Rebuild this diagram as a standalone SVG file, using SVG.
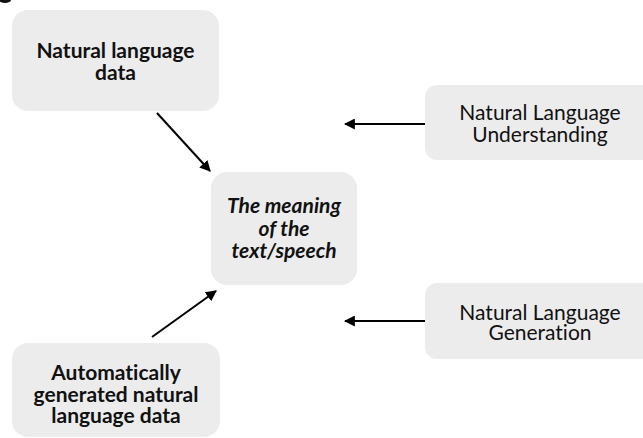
<svg xmlns="http://www.w3.org/2000/svg" width="643" height="438" viewBox="0 0 643 438">
<defs>
<style>
.box{fill:#ececec;}
.t{font-family:Lato,"Liberation Sans",sans-serif;font-size:21px;fill:#111;text-anchor:middle;font-variant-ligatures:none;}
.b{font-weight:bold;}
.i{font-style:italic;font-weight:bold;}
.c{stroke:#000;stroke-width:2;fill:none;marker-end:url(#ah);}
</style>
<marker id="ah" viewBox="0 0 10 10" refX="9" refY="5" markerWidth="5.5" markerHeight="5.5" orient="auto" markerUnits="strokeWidth">
<path d="M0,0 L10,5 L0,10 z" fill="#000"/>
</marker>
</defs>
<rect width="643" height="438" fill="#fff"/>
<ellipse cx="5" cy="0" rx="6" ry="3" fill="#111"/>
<g id="nl-data">
<rect class="box" x="12" y="10" width="207" height="101" rx="16"/>
<text class="t b" x="115.5" y="58">Natural language</text>
<text class="t b" x="115.5" y="80">data</text>
</g>
<g id="meaning">
<rect class="box" x="211" y="172" width="146" height="113" rx="16"/>
<text class="t i" x="284" y="213">The meaning</text>
<text class="t i" x="284" y="236">of the</text>
<text class="t i" x="284" y="258">text/speech</text>
</g>
<g id="auto-data">
<rect class="box" x="12" y="343" width="208" height="94" rx="16"/>
<text class="t b" x="116" y="380">Automatically</text>
<text class="t b" x="116" y="402">generated natural</text>
<text class="t b" x="116" y="423">language data</text>
</g>
<g id="nlu">
<rect class="box" x="425" y="85" width="240" height="75" rx="12"/>
<text class="t" x="540" y="120">Natural Language</text>
<text class="t" x="540" y="142">Understanding</text>
</g>
<g id="nlg">
<rect class="box" x="425" y="283" width="240" height="76" rx="12"/>
<text class="t" x="540" y="320">Natural Language</text>
<text class="t" x="540" y="340">Generation</text>
</g>
<g id="connectors">
<line class="c" x1="157" y1="113" x2="210" y2="171"/>
<line class="c" x1="152" y1="337" x2="216" y2="291"/>
<line class="c" x1="425" y1="124" x2="345" y2="124"/>
<line class="c" x1="425" y1="321" x2="345" y2="321"/>
</g>
</svg>
